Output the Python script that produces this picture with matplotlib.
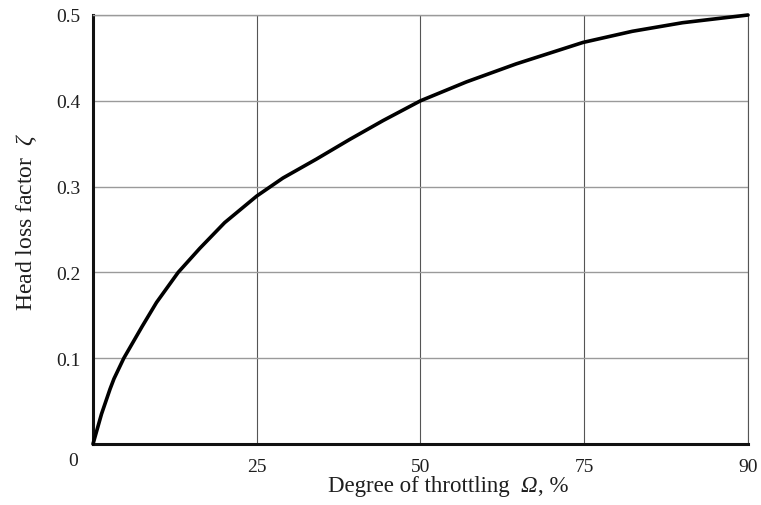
import matplotlib
matplotlib.use("Agg")
import matplotlib.pyplot as plt
import numpy as np

# Data
throttling = [0, 1.3, 2.6, 3.2, 4.7, 7.5, 9.7, 13.0, 16.3, 20.1, 25, 29, 34.1, 39.2, 44.3,
              50, 57, 64.6, 74.8, 79.4, 84, 90]
zeta = [0, 0.035, 0.064, 0.076, 0.100, 0.137, 0.165, 0.200, 0.228, 0.258, 0.289, 0.310,
        0.332, 0.355, 0.377, 0.400, 0.422, 0.443, 0.468, 0.481, 0.491, 0.500]
x_ticks = [25, 50, 75, 90]
y_ticks = [0.1, 0.2, 0.3, 0.4, 0.5]
xlabel_parts = [("Degree of throttling", "normal"), ("\u03a9", "italic"), (", %", "normal")]

# Tick values sit at equally spaced positions on the printed axis
breaks = [0, 25, 50, 75, 90]
positions = [0, 1, 2, 3, 4]

def fwd(x):
    return np.interp(x, breaks, positions)

def inv(p):
    return np.interp(p, positions, breaks)

plt.rcParams['font.family'] = ['Liberation Serif', 'DejaVu Serif']
plt.rcParams['mathtext.fontset'] = 'custom'
plt.rcParams['mathtext.it'] = 'Liberation Serif:italic'
plt.rcParams['mathtext.rm'] = 'Liberation Serif'

TXT = '#1e1e1e'
W, H = 761, 506

fig = plt.figure(figsize=(7.61, 5.06), dpi=100)
ax = fig.add_axes([93/W, 1 - 445/H, (748 - 93)/W, (445 - 16)/H])
ax.set_xscale('function', functions=(fwd, inv))
ax.set_xlim(0, 90)
ax.set_ylim(0, 0.5)

ax.set_xticks(x_ticks)
ax.set_yticks(y_ticks)
ax.set_xticklabels([str(t) for t in x_ticks])
ax.set_yticklabels([f"{t:.1f}" for t in y_ticks])
ax.xaxis.set_minor_locator(matplotlib.ticker.NullLocator())
ax.tick_params(length=0, labelsize=14, colors=TXT)
ax.tick_params(axis='x', pad=10)
ax.tick_params(axis='y', pad=9)

ax.yaxis.grid(True, color='#9a9a9a', linewidth=1.0)
ax.xaxis.grid(True, color='#555555', linewidth=0.8)
ax.set_axisbelow(True)
ax.spines['top'].set_color('#9a9a9a')
ax.spines['top'].set_linewidth(1.0)
ax.spines['right'].set_color('#555555')
ax.spines['right'].set_linewidth(0.8)
for s in ['left', 'bottom']:
    ax.spines[s].set_color('#111111')
    ax.spines[s].set_linewidth(2.2)

ax.plot(throttling, zeta, color='black', linewidth=2.6, solid_capstyle='round',
        solid_joinstyle='round', clip_on=False, zorder=5)

fig.text(73/W, 1 - 462/H, "0", ha='center', va='center', fontsize=14, color=TXT)

fig.text(27/W, 1 - 222/H, r"Head loss factor  $\zeta$", rotation=90, ha='center',
         va='center', fontsize=17, color=TXT)

# x label built from pieces so that the Omega can be italic
fig.canvas.draw()
renderer = fig.canvas.get_renderer()
gaps = [11, 1, 0]
texts = []
widths = []
for (s, style) in xlabel_parts:
    t = fig.text(0, 1 - 492/H, s, fontsize=16.5, fontstyle=style, color=TXT,
                 ha='left', va='baseline')
    texts.append(t)
    widths.append(t.get_window_extent(renderer).width)
total = sum(widths) + sum(gaps[:-1])
x = 448 - total / 2
for t, w, g in zip(texts, widths, gaps):
    t.set_x(x / W)
    x += w + g

fig.savefig("out.png", dpi=100)
